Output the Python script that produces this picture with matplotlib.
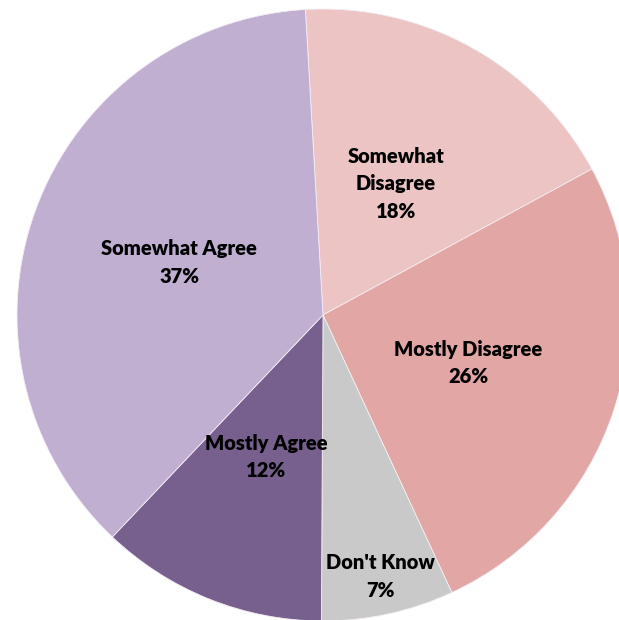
import matplotlib
matplotlib.use("Agg")
import matplotlib.pyplot as plt
import numpy as np

# survey responses, clockwise from the top
labels = ["Somewhat\nDisagree", "Mostly Disagree", "Don't Know", "Mostly Agree", "Somewhat Agree"]
values = [18, 26, 7, 12, 37]
colors = ["#EBC4C3", "#E2A7A5", "#C9C9C9", "#77608D", "#C0AFD1"]
label_dist = [0.49, 0.50, 0.875, 0.50, 0.50]

W, H = 619, 620
cx, cy, R = 323, 315, 306

fig = plt.figure(figsize=(W / 100, H / 100), dpi=100)
ax = fig.add_axes([0, 0, 1, 1])

wedges, _ = ax.pie(values, colors=colors, startangle=93.3, counterclock=False,
                   radius=1.0, wedgeprops=dict(linewidth=0.6, edgecolor="#f4eef4"))

for w, lab, v, d in zip(wedges, labels, values, label_dist):
    ang = np.deg2rad((w.theta1 + w.theta2) / 2)
    ax.text(d * np.cos(ang), d * np.sin(ang), f"{lab}\n{v}%",
            ha="center", va="center", fontsize=14.5, fontweight="heavy",
            family="Lato", linespacing=1.55, color="black")

# pixel-aligned limits (pie is clipped on the right and bottom)
ax.set_xlim(-cx / R, (W - cx) / R)
ax.set_ylim(-(H - cy) / R, cy / R)
ax.set_aspect("equal")
ax.axis("off")

fig.savefig("out.png", dpi=100)
